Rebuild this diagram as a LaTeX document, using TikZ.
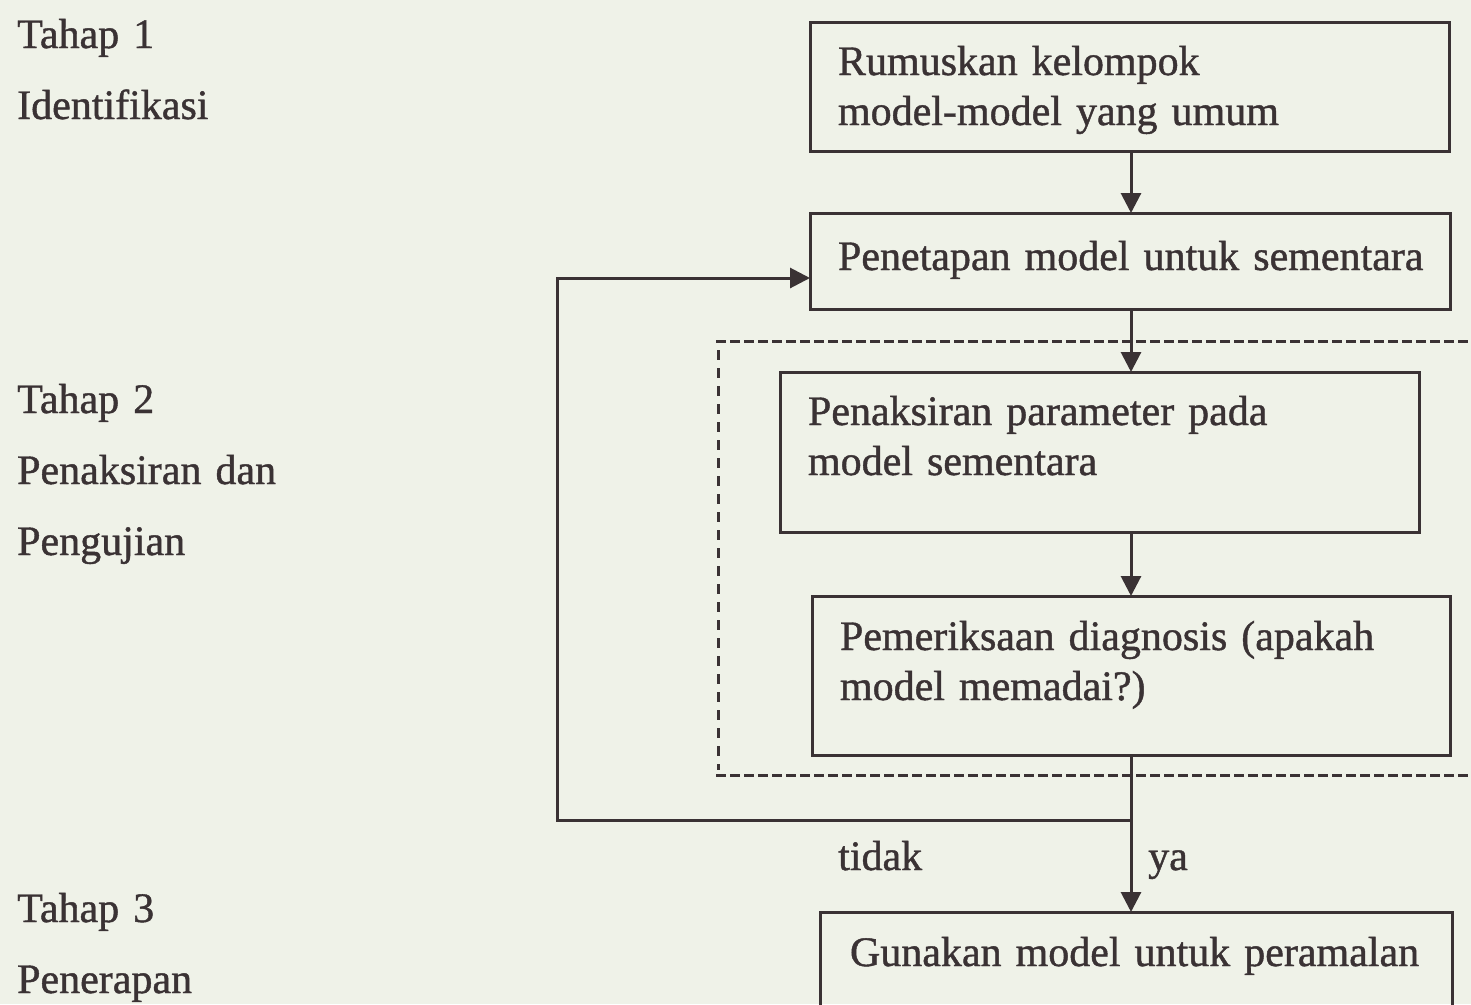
\documentclass[tikz,border=0pt]{standalone}
\usepackage{fontspec}
\setmainfont{Liberation Serif}[RawFeature={embolden=1.0}]
\usetikzlibrary{arrows.meta,calc}
\definecolor{bgc}{RGB}{239,242,232}
\definecolor{ink}{RGB}{58,50,52}
\begin{document}
\begin{tikzpicture}[x=1pt,y=-1pt,
  box/.style={draw=ink, line width=3pt, anchor=north west, outer sep=0pt,
    inner ysep=0pt, inner xsep=28pt, align=left, text=ink,
    font=\fontsize{42}{50}\selectfont},
  lbl/.style={anchor=base west, inner sep=0pt, align=left, text width=400pt,
    text=ink, font=\fontsize{42}{71}\selectfont},
  word/.style={anchor=base west, inner sep=0pt, text=ink,
    font=\fontsize{42}{50}\selectfont},
  arr/.style={draw=ink, line width=3pt, -{Triangle[length=20pt,width=20pt]}},
  hdsh/.style={draw=ink, line width=3pt, dash pattern=on 10pt off 4pt},
  vdsh/.style={draw=ink, line width=3pt, dash pattern=on 10pt off 8pt}]
\clip (0,0) rectangle (1471,1004);
\fill[bgc] (0,0) rectangle (1471,1004);

% stage labels
\node[lbl] (s1) at (17,48) {Tahap 1\\Identifikasi};
\node[lbl] (s2) at (17,413) {Tahap 2\\Penaksiran dan\\Pengujian};
\node[lbl] (s3) at (17,922) {Tahap 3\\Penerapan};

% dashed region
\draw[hdsh] (716,341) -- (1490,341);
\draw[hdsh] (716,775) -- (1490,775);
\draw[vdsh] (718,350) -- (718,770);

% boxes
\node[box, text width=583pt, text height=53pt, text depth=76pt] (b1) at (810,22)
  {\mbox{Rumuskan kelompok}\\\mbox{model-model yang umum}};
\node[box, text width=584pt, text height=57pt, text depth=39pt] (b2) at (810,213)
  {\mbox{Penetapan model untuk sementara}};
\node[box, text width=583pt, text height=53pt, text depth=107pt] (b3) at (780,372)
  {\mbox{Penaksiran parameter pada}\\\mbox{model sementara}};
\node[box, text width=582pt, text height=54pt, text depth=105pt] (b4) at (812,596)
  {\mbox{Pemeriksaan diagnosis (apakah}\\\mbox{model memadai?)}};
\node[box, inner xsep=30pt, text width=572pt, text height=54pt, text depth=130pt] (b5) at (820,912)
  {\mbox{Gunakan model untuk peramalan}};

% connectors
\coordinate (ax) at (1131,0);
\draw[arr] (b1.south -| ax) -- (b2.north -| ax);
\draw[arr] (b2.south -| ax) -- (b3.north -| ax);
\draw[arr] (b3.south -| ax) -- (b4.north -| ax);
\draw[arr] (b4.south -| ax) -- (b5.north -| ax);
\coordinate (sp) at (1131,820);
\coordinate (lb) at (557,820);
\coordinate (lt) at (557,278);
\draw[arr] (sp) -- (lb) -- (lt) -- (lt -| b2.west);

\node[word] (tidak) at (838,870) {tidak};
\node[word] (ya) at (1148,870) {ya};
\end{tikzpicture}
\end{document}
